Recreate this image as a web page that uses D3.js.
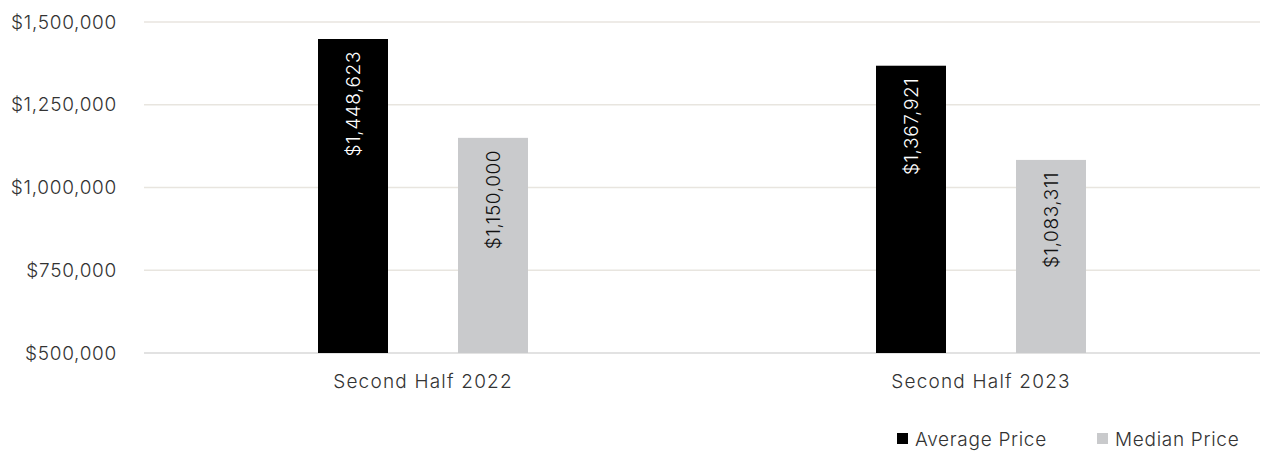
<!DOCTYPE html>
<html><head><meta charset="utf-8">
<script src="https://cdn.jsdelivr.net/npm/d3@7"></script>
<style>
body{margin:0;background:#fff;}
text{font-family:Inter,"Noto Sans",sans-serif;font-weight:300;}
</style></head>
<body><svg id="c" width="1262" height="453"></svg>
<script>
const categories = ["Second Half 2022", "Second Half 2023"];
const seriesNames = ["Average Price", "Median Price"];
const averagePrice = [1448623, 1367921];
const medianPrice = [1150000, 1083311];
const yTicks = [500000, 750000, 1000000, 1250000, 1500000];
const colors = ["#000000", "#c9cacc"];
const labelColors = ["#ffffff", "#111111"];

const svg = d3.select("#c");
const x = d3.scaleBand().domain(categories).range([144, 1260]);
const y = d3.scaleLinear().domain([500000, 1500000]).range([353, 22]);
const series = [averagePrice, medianPrice];
const fmt = v => "$" + d3.format(",")(v);

// gridlines
svg.append("g").selectAll("line").data(yTicks).join("line")
  .attr("x1", 144).attr("x2", 1260)
  .attr("y1", d => y(d)).attr("y2", d => y(d))
  .attr("stroke", d => d === 500000 ? "#d9d9d9" : "#e8e5df").attr("stroke-width", 1.5);

// y axis labels
svg.append("g").selectAll("text").data(yTicks).join("text")
  .attr("x", 117).attr("y", d => y(d)).attr("dy", "0.35em")
  .attr("text-anchor", "end").attr("font-size", 19).attr("fill", "#333")
  .attr("letter-spacing", 0.7)
  .text(d => fmt(d));

// bars
const bw = 70;
const offsets = [-105, 35];
series.forEach((vals, si) => {
  const g = svg.append("g");
  g.selectAll("rect").data(categories).join("rect")
    .attr("x", (c) => x(c) + x.bandwidth()/2 + offsets[si])
    .attr("width", bw)
    .attr("y", (c, i) => y(vals[i]))
    .attr("height", (c, i) => y(500000) - y(vals[i]))
    .attr("fill", colors[si]);
  g.selectAll("text").data(categories).join("text")
    .attr("transform", (c, i) => `translate(${x(c) + x.bandwidth()/2 + offsets[si] + bw/2},${y(vals[i]) + 12}) rotate(-90)`)
    .attr("text-anchor", "end").attr("dy", "0.35em")
    .attr("font-size", 19).attr("fill", labelColors[si]).attr("font-weight", 400)
    .attr("letter-spacing", 0.6)
    .text((c, i) => fmt(vals[i]));
});

// category labels
svg.append("g").selectAll("text").data(categories).join("text")
  .attr("x", c => x(c) + x.bandwidth()/2).attr("y", 388)
  .attr("text-anchor", "middle").attr("font-size", 19).attr("fill", "#333")
  .attr("letter-spacing", 1.2)
  .text(c => c);

// legend
const legX = [897, 1097];
seriesNames.forEach((n, i) => {
  svg.append("rect").attr("x", legX[i]).attr("y", 433).attr("width", 11).attr("height", 11).attr("fill", colors[i]);
  svg.append("text").attr("x", legX[i] + 18).attr("y", 439).attr("dy", "0.35em")
    .attr("font-size", 19).attr("fill", "#333").attr("letter-spacing", 0.7).text(n);
});
</script></body></html>
